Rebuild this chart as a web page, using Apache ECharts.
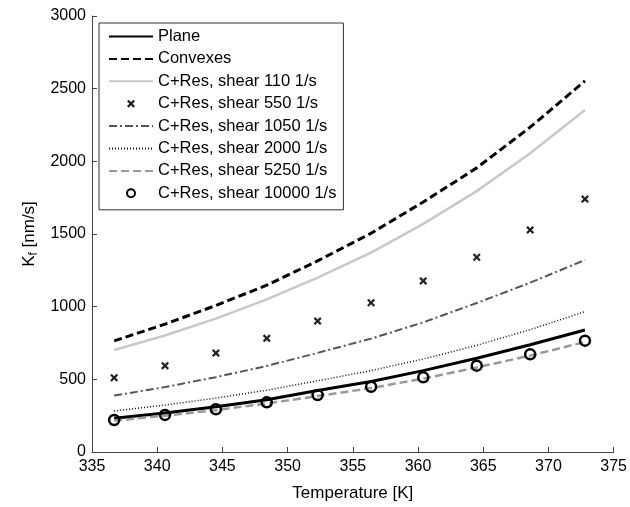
<!DOCTYPE html>
<html>
<head>
<meta charset="utf-8">
<script src="https://cdn.jsdelivr.net/npm/echarts@6/dist/echarts.min.js"></script>
<style>
  html, body { margin: 0; padding: 0; background: #fff; }
  #chart { width: 630px; height: 507px; }
</style>
</head>
<body>
<div id="chart"></div>
<script>
// temperatures [K]
const temps = [336.7, 340.6, 344.5, 348.4, 352.3, 356.4, 360.4, 364.5, 368.6, 372.8];

// Kf [nm/s]
const plane = [232, 268, 312, 360, 423, 485, 560, 645, 738, 839];
const convexes = [765, 880, 1008, 1148, 1315, 1505, 1720, 1955, 2235, 2553];
const shear110 = [702, 802, 918, 1050, 1200, 1372, 1570, 1795, 2055, 2353];
const shear550 = [511, 594, 681, 782, 901, 1027, 1177, 1340, 1528, 1740];
const shear1050 = [388, 447, 515, 592, 682, 780, 892, 1025, 1165, 1321];
const shear2000 = [282, 323, 371, 425, 490, 560, 640, 734, 842, 966];
const shear5250 = [216, 250, 288, 334, 385, 440, 505, 582, 663, 757];
const shear10000 = [220, 255, 294, 342, 392, 449, 514, 594, 672, 766];

const xTicks = [335, 340, 345, 350, 355, 360, 365, 370, 375];
const yTicks = [0, 500, 1000, 1500, 2000, 2500, 3000];

const font = 'Liberation Sans, Arial, sans-serif';
const pairs = ys => temps.map((t, i) => [t, ys[i]]);

// symbol for the crosses (filled X)
const crossPath = 'path://M2,0 L5,3 L8,0 L10,2 L7,5 L10,8 L8,10 L5,7 L2,10 L0,8 L3,5 L0,2 Z';

// plain line, no markers (itemStyle hidden so the legend shows only the line)
function lineSeries(name, ys, color, width, type) {
  return {
    name: name,
    type: 'line',
    data: pairs(ys),
    symbol: 'none',
    itemStyle: { color: color, opacity: 0 },
    lineStyle: { color: color, width: width, type: type, opacity: 1 },
    emphasis: { disabled: true }
  };
}

const chart = echarts.init(document.getElementById('chart'));

chart.setOption({
  animation: false,
  grid: { left: 92, right: 15, top: 16, bottom: 55 },
  legend: {
    orient: 'vertical',
    left: 99,
    top: 23,
    padding: [5, 7, 8, 9],
    itemWidth: 44,
    itemHeight: 10,
    itemGap: 5.4,
    borderColor: '#333',
    borderWidth: 1,
    backgroundColor: '#fff',
    textStyle: { fontFamily: font, fontSize: 16.5, color: '#000' },
    data: ['Plane', 'Convexes', 'C+Res, shear 110 1/s', 'C+Res, shear 550 1/s',
      'C+Res, shear 1050 1/s', 'C+Res, shear 2000 1/s', 'C+Res, shear 5250 1/s',
      'C+Res, shear 10000 1/s']
  },
  xAxis: {
    type: 'value',
    min: xTicks[0],
    max: xTicks[xTicks.length - 1],
    interval: 5,
    name: 'Temperature [K]',
    nameLocation: 'middle',
    nameGap: 33,
    nameTextStyle: { fontFamily: font, fontSize: 17, color: '#000' },
    axisLine: { lineStyle: { color: '#444', width: 1 } },
    axisTick: { inside: true, length: 5, lineStyle: { color: '#444' } },
    axisLabel: { fontFamily: font, fontSize: 16, color: '#000', margin: 7 },
    splitLine: { show: false }
  },
  yAxis: {
    type: 'value',
    min: yTicks[0],
    max: yTicks[yTicks.length - 1],
    interval: 500,
    name: '{a|K}{b|f}{a| [nm/s]}',
    nameLocation: 'middle',
    nameGap: 47,
    nameRotate: 90,
    nameTextStyle: {
      rich: {
        a: { fontFamily: font, fontSize: 17, color: '#000' },
        b: { fontFamily: font, fontSize: 12, color: '#000', verticalAlign: 'bottom', padding: [9, 0, 0, 0] }
      }
    },
    axisLine: { show: true, lineStyle: { color: '#444', width: 1 } },
    axisTick: { show: true, inside: true, length: 5, lineStyle: { color: '#444' } },
    axisLabel: { fontFamily: font, fontSize: 16, color: '#000', margin: 6, formatter: v => String(v) },
    splitLine: { show: false }
  },
  series: [
    lineSeries('Plane', plane, '#000', 3, 'solid'),
    lineSeries('Convexes', convexes, '#000', 3, [8, 4]),
    lineSeries('C+Res, shear 110 1/s', shear110, '#c8c8c8', 2.5, 'solid'),
    {
      name: 'C+Res, shear 550 1/s',
      type: 'line',
      data: pairs(shear550),
      symbol: crossPath,
      symbolSize: 8,
      showAllSymbol: true,
      itemStyle: { color: '#222' },
      lineStyle: { opacity: 0, width: 0 },
      emphasis: { disabled: true }
    },
    lineSeries('C+Res, shear 1050 1/s', shear1050, '#555', 2, [8, 3, 2, 3]),
    lineSeries('C+Res, shear 2000 1/s', shear2000, '#111', 1.5, [1, 2]),
    lineSeries('C+Res, shear 5250 1/s', shear5250, '#999', 2.5, [8, 4]),
    {
      name: 'C+Res, shear 10000 1/s',
      type: 'line',
      data: pairs(shear10000),
      symbol: 'circle',
      symbolSize: 10,
      showAllSymbol: true,
      itemStyle: { color: 'rgba(0,0,0,0)', borderColor: '#000', borderWidth: 2.5 },
      lineStyle: { opacity: 0, width: 0 },
      emphasis: { disabled: true }
    }
  ]
});
</script>
</body>
</html>
